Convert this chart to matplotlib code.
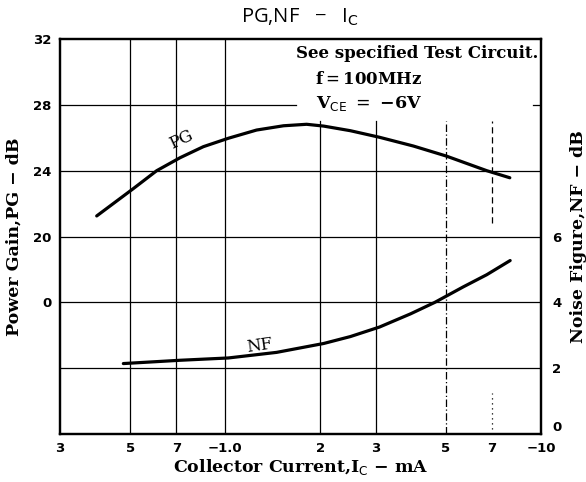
import matplotlib
matplotlib.use("Agg")
import matplotlib.pyplot as plt

# curves (collector current in mA, magnitude)
pg_ic = [0.392, 0.511, 0.607, 0.72, 0.853, 1.023, 1.257, 1.53, 1.81,
         2.05, 2.49, 3.08, 3.94, 5.01, 6.73, 7.96]
pg_db = [21.25, 22.9, 24.0, 24.79, 25.46, 25.97, 26.47, 26.73, 26.82,
         26.71, 26.43, 26.03, 25.5, 24.89, 24.0, 23.57]

nf_ic = [0.476, 0.72, 1.023, 1.455, 2.05, 2.49, 3.08, 3.86, 4.61,
         5.67, 6.73, 7.98]
nf_db = [2.14, 2.24, 2.31, 2.48, 2.75, 2.96, 3.25, 3.65, 4.0,
         4.47, 4.84, 5.27]

x_ticks = [0.3, 0.5, 0.7, 1.0, 2, 3, 5, 7, 10]
x_labels = ["3", "5", "7", "\u22121.0", "2", "3", "5", "7", "\u221210"]

pg_ticks = [16, 20, 24, 28, 32]
pg_labels = ["0", "20", "24", "28", "32"]
nf_ticks = [0, 2, 4, 6]

serif = "DejaVu Serif"

fig = plt.figure(figsize=(5.86, 4.82), dpi=100)
ax = fig.add_axes([0.1024, 0.0996, 0.821, 0.8194])
ax2 = ax.twinx()

ax.set_xscale("log")
ax.set_xlim(0.3, 10)
ax.set_ylim(8, 32)
ax2.set_ylim(0, 12)

# grid (some lines stop under the condition text box)
for yv in [12, 16, 20, 24]:
    ax.axhline(yv, color="black", lw=0.9)
ax.plot([0.3, 1.68], [28, 28], color="black", lw=0.9)
ax.plot([9.4, 10], [28, 28], color="black", lw=0.9)
for xv in [0.5, 0.7, 1.0]:
    ax.axvline(xv, color="black", lw=0.9)
for xv in [2, 3]:
    ax.plot([xv, xv], [8, 27.0], color="black", lw=0.9)
ax.plot([5, 5], [8, 27.0], color="black", lw=0.9, ls=(0, (6, 2, 1, 2)))
ax.plot([7, 7], [20.8, 27.0], color="black", lw=0.9, ls=(0, (5, 3)))
ax.plot([7, 7], [8, 10.5], color="black", lw=0.9, ls=(0, (1, 3)))

ax.plot(pg_ic, pg_db, color="black", lw=2.3, solid_capstyle="round",
        solid_joinstyle="round")
ax2.plot(nf_ic, nf_db, color="black", lw=2.3, solid_capstyle="round",
         solid_joinstyle="round")

ax.text(0.728, 25.86, "PG", rotation=25, fontsize=12, family=serif,
        ha="center", va="center")
ax2.text(1.28, 2.68, "NF", rotation=8, fontsize=12, family=serif,
         ha="center", va="center")

ax.set_xticks(x_ticks)
ax.set_xticklabels(x_labels, fontsize=9.5, fontweight="bold")
ax.xaxis.set_minor_locator(matplotlib.ticker.NullLocator())
ax.set_yticks(pg_ticks)
ax.set_yticklabels(pg_labels, fontsize=9.5, fontweight="bold")
ax2.set_yticks(nf_ticks)
ax2.set_yticklabels([str(v) for v in nf_ticks], fontsize=9.5,
                    fontweight="bold")
ax2.get_yticklabels()[0].set_va("bottom")
ax.tick_params(axis="x", length=0, pad=6)
ax.tick_params(axis="y", length=0, pad=6)
ax2.tick_params(length=0, pad=8)

for a in (ax, ax2):
    for s in a.spines.values():
        s.set_linewidth(1.6)

ax.set_xlabel("Collector Current,I$_{\\rm C}$ \u2212 mA", family=serif,
              fontsize=12.5, fontweight="bold", labelpad=1)
ax.set_ylabel("Power Gain,PG \u2212 dB", family=serif, fontsize=12.5,
              fontweight="bold", labelpad=8)
ax2.set_ylabel("Noise Figure,NF \u2212 dB", family=serif, fontsize=12.5,
               fontweight="bold", labelpad=6)

fig.text(0.512, 0.965, "PG,NF   \u2212   I$_{\\rm C}$", fontsize=14.5,
         family="Open Sans", ha="center", va="center")

ax.text(0.995, 0.985, "See specified Test Circuit.", transform=ax.transAxes,
        ha="right", va="top", family=serif, fontsize=12, fontweight="bold")
ax.text(0.753, 0.92, "f$=$100MHz", transform=ax.transAxes, ha="right",
        va="top", family=serif, fontsize=12, fontweight="bold")
ax.text(0.753, 0.862, "V$_{\\rm CE}$ $=$ \u22126V", transform=ax.transAxes,
        ha="right", va="top", family=serif, fontsize=12.5, fontweight="bold")

fig.savefig("out.png", dpi=100)
